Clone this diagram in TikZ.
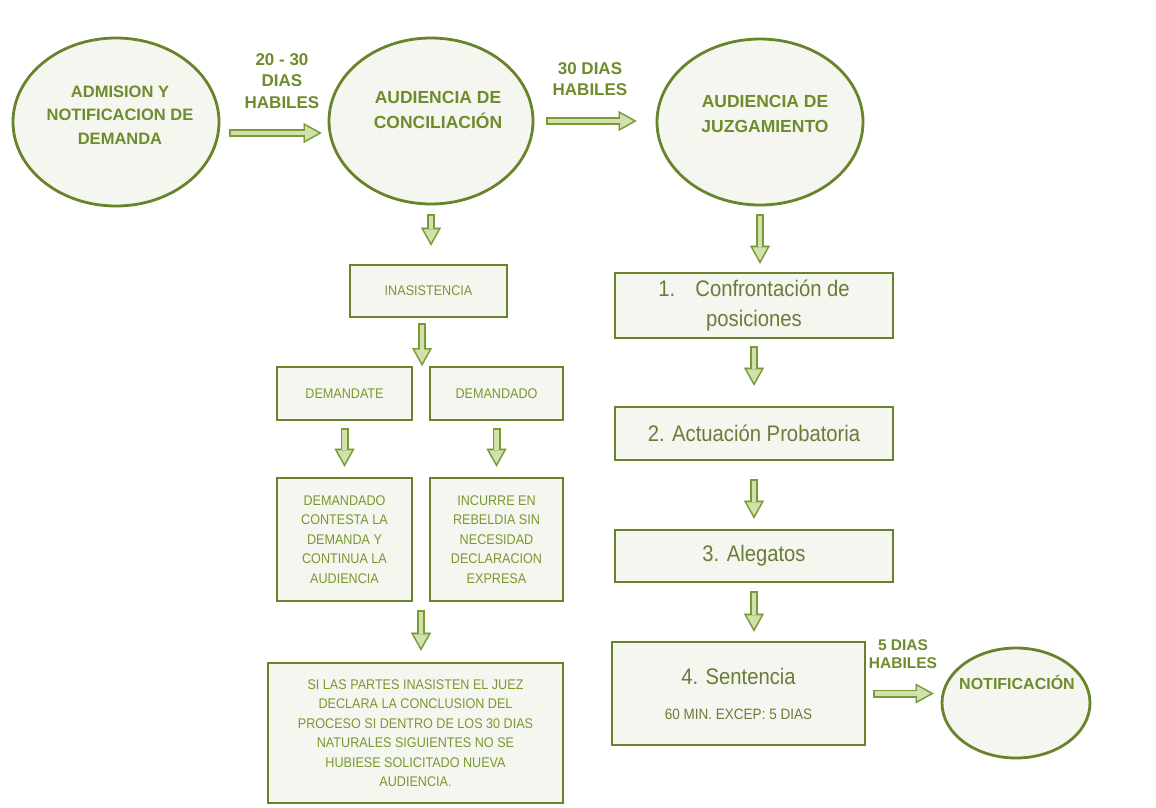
\documentclass[tikz,border=0pt]{standalone}
\usepackage{fontspec}
\setmainfont{Liberation Sans}
\newfontfamily\narrowf[FakeStretch=0.9]{Liberation Sans}
\usetikzlibrary{shapes.geometric,arrows.meta}
\definecolor{edgegreen}{RGB}{104,132,42}
\definecolor{nodefill}{RGB}{244,246,239}
\definecolor{txtgreen}{RGB}{110,140,44}
\definecolor{txtleft}{RGB}{122,152,48}
\definecolor{txtgrey}{RGB}{106,124,58}
\definecolor{arrowout}{RGB}{122,154,56}
\definecolor{arrowin}{RGB}{208,225,172}
\newcommand\hollowarr[4]{%
  \draw[arrouter, shorten <=#3, shorten >=#4] #1 -- #2;
  \draw[arrinner, shorten <=#3+1.6pt, shorten >=#4+3.3pt] #1 -- #2;}
\begin{document}
\begin{tikzpicture}[x=1pt,y=-1pt,
  bubble/.style={ellipse, draw=edgegreen, line width=2.8pt, fill=nodefill, inner sep=0pt},
  box/.style={rectangle, draw=edgegreen, line width=2.6pt, fill=nodefill, inner sep=0pt, align=center},
  ctext/.style={font=\fontsize{16.5}{23.5}\selectfont\bfseries, text=txtgreen, align=center, inner sep=0pt},
  lbl/.style={font=\fontsize{17}{21.5}\selectfont\bfseries, text=txtgreen, align=center, inner sep=0pt},
  smalltext/.style={font=\narrowf\fontsize{14}{19.5}\selectfont, text=txtleft},
  bigtext/.style={font=\narrowf\fontsize{22.5}{30}\selectfont, text=txtgrey},
  arrouter/.style={draw=arrowout, line width=8pt, -{Triangle[length=18pt, width=20pt, line width=0.01pt]}},
  arrinner/.style={draw=arrowin, line width=4.8pt, -{Triangle[length=13.1pt, width=14.6pt, line width=0.01pt]}}
]
\useasboundingbox (0,0) rectangle (1156,807);
\fill[white] (0,0) rectangle (1156,807);

% circles
\node[bubble, minimum width=206pt, minimum height=168pt] (adm) at (116,122) {};
\node[ctext] (admT) at (120,115) {ADMISION Y\\NOTIFICACION DE\\DEMANDA};
\node[bubble, minimum width=204pt, minimum height=166pt] (conc) at (431,121) {};
\node[ctext, font=\fontsize{17.5}{25}\selectfont\bfseries] (concT) at (438,110) {AUDIENCIA DE\\CONCILIACIÓN};
\node[bubble, minimum width=206pt, minimum height=166pt] (juz) at (760,122) {};
\node[ctext, font=\fontsize{17.5}{25}\selectfont\bfseries] (juzT) at (765,114) {AUDIENCIA DE\\JUZGAMIENTO};
\node[bubble, minimum width=148pt, minimum height=110pt] (notif) at (1016,703) {};
\node[ctext, font=\fontsize{16}{20}\selectfont\bfseries] (notifT) at (1017,682) {NOTIFICACIÓN};

% arrow labels
\node[lbl] (l1) at (282,81) {20 - 30\\DIAS\\HABILES};
\node[lbl] (l2) at (590,79) {30 DIAS\\HABILES};
\node[lbl, font=\fontsize{15.5}{17.5}\selectfont\bfseries] (l3) at (903,654) {5 DIAS\\HABILES};

% left column
\node[box, smalltext, minimum width=157pt, minimum height=52pt] (inas) at (428.5,291) {INASISTENCIA};
\node[box, smalltext, minimum width=135pt, minimum height=53pt] (dte) at (344.5,393.5) {DEMANDATE};
\node[box, smalltext, minimum width=133pt, minimum height=53pt] (ddo) at (496.5,393.5) {DEMANDADO};
\node[box, smalltext, minimum width=135pt, minimum height=123pt] (c1) at (344.5,539.5)
  {DEMANDADO\\CONTESTA LA\\DEMANDA Y\\CONTINUA LA\\AUDIENCIA};
\node[box, smalltext, minimum width=133pt, minimum height=123pt] (c2) at (496.5,539.5)
  {INCURRE EN\\REBELDIA SIN\\NECESIDAD\\DECLARACION\\EXPRESA};
\node[box, smalltext, minimum width=295pt, minimum height=140pt] (si) at (415.5,733)
  {SI LAS PARTES INASISTEN EL JUEZ\\DECLARA LA CONCLUSION DEL\\PROCESO SI DENTRO DE LOS 30 DIAS\\NATURALES SIGUIENTES NO SE\\HUBIESE SOLICITADO NUEVA\\AUDIENCIA.};
\coordinate (inasfoot) at (422,367);
\coordinate (cfoot) at (421,601);

% right column
\node[box, bigtext, minimum width=278pt, minimum height=65pt] (b1) at (754,305.5)
  {1.\hspace{0.9em}Confrontación de\\posiciones};
\node[box, bigtext, minimum width=278pt, minimum height=53pt] (b2) at (754,433.5) {2. Actuación Probatoria};
\node[box, bigtext, minimum width=278pt, minimum height=52pt] (b3) at (754,556) {3. Alegatos};
\node[box, bigtext, font=\narrowf\fontsize{22.5}{27}\selectfont, minimum width=253pt, minimum height=103pt] (b4) at (738.5,693.5)
  {4. Sentencia\\[8pt]{\fontsize{15}{18}\selectfont 60 MIN. EXCEP: 5 DIAS}};

% connectors
\hollowarr{([yshift=-11pt]adm.east)}{([yshift=-11pt]adm.east -| conc.west)}{9pt}{6pt}
\hollowarr{(conc.east)}{(conc.east -| juz.west)}{12pt}{19pt}
\hollowarr{(b4.east)}{(b4.east -| notif.west)}{7pt}{7pt}
\hollowarr{(conc.south)}{(conc.south |- inas.north)}{9pt}{18pt}
\hollowarr{(inas.south -| inasfoot)}{(inasfoot)}{5pt}{1pt}
\hollowarr{(dte.south)}{(dte.south |- c1.north)}{7pt}{10pt}
\hollowarr{(ddo.south)}{(ddo.south |- c2.north)}{7pt}{10pt}
\hollowarr{(cfoot)}{(cfoot |- si.north)}{9pt}{11pt}
\hollowarr{(juz.south)}{(juz.south |- b1.north)}{8pt}{8pt}
\hollowarr{(b1.south)}{(b1.south |- b2.north)}{7pt}{20pt}
\hollowarr{(b2.south)}{(b2.south |- b3.north)}{18pt}{10pt}
\hollowarr{(b3.south)}{(b3.south |- b4.north)}{8pt}{9pt}
\end{tikzpicture}
\end{document}
